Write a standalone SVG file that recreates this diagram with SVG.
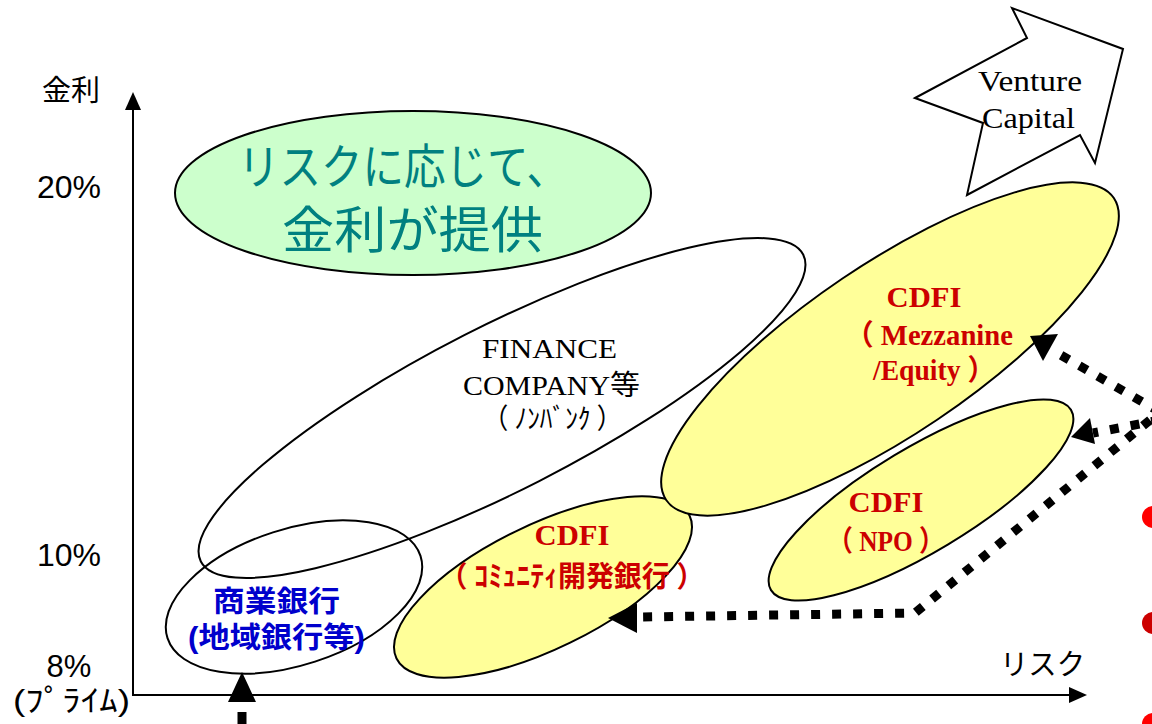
<svg xmlns="http://www.w3.org/2000/svg" width="1152" height="724" viewBox="0 0 1152 724">
<style>
.ax{stroke:#000;stroke-width:2;fill:none}
.el{stroke:#000;stroke-width:2}
.jp{font-family:"Liberation Sans","Noto Sans CJK JP",sans-serif;fill:#000}
.serif{font-family:"Liberation Serif","Noto Sans CJK JP",serif;fill:#000}
.red{font-family:"Liberation Serif","Noto Sans CJK JP",serif;font-weight:bold;fill:#CC0000;font-size:29px;text-anchor:middle}
.dot{stroke:#000;stroke-width:9;stroke-dasharray:9 12;fill:none}
</style>
<rect width="1152" height="724" fill="#fff"/>

<g id="axes">
<line class="ax" x1="133" y1="696" x2="133" y2="108"/>
<path d="M133,92 L125,110 L141,110 z" fill="#000"/>
<line class="ax" x1="133" y1="695" x2="1070" y2="695"/>
<path d="M1087,695 L1069,687 L1069,703 z" fill="#000"/>
<text class="jp" x="71" y="101" font-size="29" text-anchor="middle">金利</text>
<text class="jp" x="69" y="198" font-size="32" text-anchor="middle">20%</text>
<text class="jp" x="69" y="566" font-size="32" text-anchor="middle">10%</text>
<text class="jp" x="69" y="677" font-size="31" text-anchor="middle">8%</text>
<text class="jp" x="13" y="711" font-size="30" textLength="117" lengthAdjust="spacingAndGlyphs">(ﾌﾟﾗｲﾑ)</text>
<text class="jp" x="1000" y="675" font-size="29" textLength="85" lengthAdjust="spacingAndGlyphs">リスク</text>
</g>

<g id="node-green">
<ellipse class="el" cx="413" cy="193" rx="238" ry="82" fill="#CCFFCC"/>
<text class="jp" x="238" y="184" font-size="48" textLength="330" lengthAdjust="spacingAndGlyphs" style="fill:#008080">リスクに応じて、</text>
<text class="jp" x="282" y="248" font-size="50" textLength="261" lengthAdjust="spacingAndGlyphs" style="fill:#008080">金利が提供</text>
</g>

<g id="node-finance">
<ellipse class="el" cx="502" cy="408" rx="338" ry="82" fill="none" transform="rotate(-27 502 408)"/>
<text class="serif" x="482" y="358" font-size="28" textLength="135" lengthAdjust="spacingAndGlyphs">FINANCE</text>
<text class="serif" x="463" y="395" font-size="28" textLength="177" lengthAdjust="spacingAndGlyphs">COMPANY等</text>
<text class="serif" x="483" y="429" font-size="28" textLength="139" lengthAdjust="spacingAndGlyphs">（ ﾉﾝﾊﾞﾝｸ ）</text>
</g>

<g id="node-bank">
<ellipse class="el" cx="294" cy="597" rx="133" ry="68" fill="none" transform="rotate(-18 294 597)"/>
<text class="jp" x="213" y="612" font-size="29" font-weight="bold" textLength="127" lengthAdjust="spacingAndGlyphs" style="fill:#0000CC">商業銀行</text>
<text class="jp" x="188" y="648" font-size="29" font-weight="bold" textLength="177" lengthAdjust="spacingAndGlyphs" style="fill:#0000CC">(地域銀行等)</text>
</g>

<g id="node-cdfi-community">
<ellipse class="el" cx="543" cy="587" rx="163" ry="62" fill="#FFFF99" transform="rotate(-26 543 587)"/>
<text class="red" x="572" y="545" textLength="75" lengthAdjust="spacingAndGlyphs">CDFI</text>
<text class="red" x="572" y="587" textLength="265" lengthAdjust="spacingAndGlyphs">（ ｺﾐｭﾆﾃｨ開発銀行 ）</text>
</g>

<g id="node-cdfi-mezz">
<ellipse class="el" cx="890" cy="349" rx="270" ry="85" fill="#FFFF99" transform="rotate(-34 890 349)"/>
<text class="red" x="924" y="307" textLength="75" lengthAdjust="spacingAndGlyphs">CDFI</text>
<text class="red" x="929" y="345" textLength="168" lengthAdjust="spacingAndGlyphs">（ Mezzanine</text>
<text class="red" x="934" y="380" textLength="122" lengthAdjust="spacingAndGlyphs">/Equity ）</text>
</g>

<g id="node-cdfi-npo">
<ellipse class="el" cx="921" cy="500" rx="175" ry="52" fill="#FFFF99" transform="rotate(-31 921 500)"/>
<text class="red" x="886" y="512" textLength="75" lengthAdjust="spacingAndGlyphs">CDFI</text>
<text class="red" x="886" y="551" textLength="117" lengthAdjust="spacingAndGlyphs">（ NPO ）</text>
</g>

<g id="node-vc">
<polygon points="915,98 1027,38 1012,8 1123,49 1095,163 1080,135 967,195 983,123" fill="#fff" stroke="#000" stroke-width="2"/>
<text class="serif" x="978" y="91" font-size="29" textLength="104" lengthAdjust="spacingAndGlyphs">Venture</text>
<text class="serif" x="982" y="128" font-size="29" textLength="93" lengthAdjust="spacingAndGlyphs">Capital</text>
</g>

<g id="connectors">
<path class="dot" d="M1160,412 L1052,350"/>
<path d="M1030,336 L1058,334 L1043,361 z" fill="#000"/>
<path class="dot" d="M1160,420 L1093,433"/>
<path d="M1071,437 L1090,418 L1095,444 z" fill="#000"/>
<path class="dot" d="M1150,420 L915,613 L640,617"/>
<path d="M608,618 L637,603 L637,633 z" fill="#000"/>
<path d="M242,672 L228,702 L256,702 z" fill="#000"/>
<line x1="242" y1="712" x2="242" y2="724" stroke="#000" stroke-width="9"/>
</g>

<g id="bullets">
<circle cx="1153" cy="517" r="11" fill="#FF0000"/>
<circle cx="1153" cy="623" r="11" fill="#CC0000"/>
<circle cx="1153" cy="724" r="11" fill="#FF0000"/>
</g>
</svg>
